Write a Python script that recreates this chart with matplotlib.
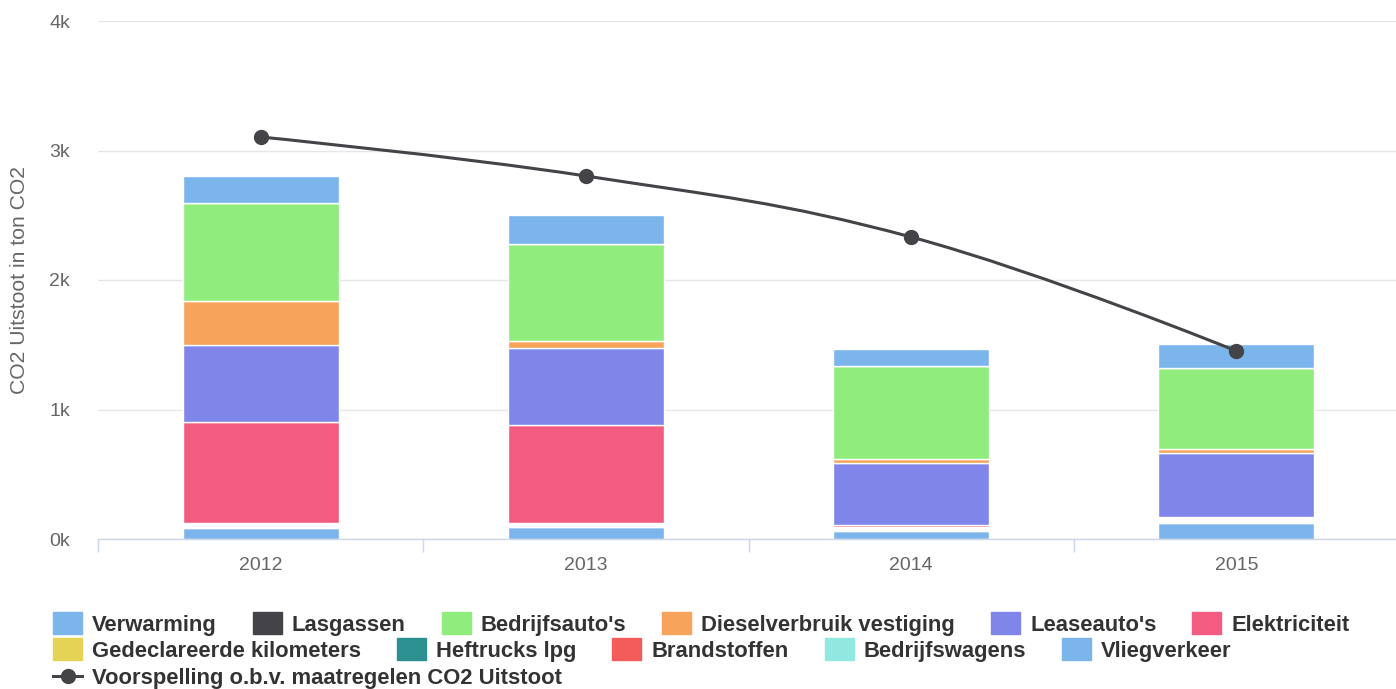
import numpy as np
import matplotlib
matplotlib.use("Agg")
import matplotlib.pyplot as plt
from matplotlib.path import Path
from matplotlib.patches import PathPatch, Rectangle
from matplotlib.lines import Line2D

plt.rcParams["font.family"] = ["Liberation Sans", "DejaVu Sans"]

years = ["2012", "2013", "2014", "2015"]

# series in legend order (Highcharts stacks the first one on top)
series_names = [
    "Verwarming", "Lasgassen", "Bedrijfsauto's", "Dieselverbruik vestiging",
    "Leaseauto's", "Elektriciteit", "Gedeclareerde kilometers", "Heftrucks lpg",
    "Brandstoffen", "Bedrijfswagens", "Vliegverkeer",
]
series_colors = [
    "#7cb5ec", "#434348", "#90ed7d", "#f7a35c", "#8085e9", "#f15c80",
    "#e4d354", "#2b908f", "#f45b5b", "#91e8e1", "#7cb5ec",
]

verwarming = [208, 224, 131, 183]
lasgassen = [0, 0, 0, 0]
bedrijfsautos = [757, 746, 721, 628]
diesel = [340, 55, 30, 29]
leaseautos = [595, 597, 477, 496]
elektriciteit = [779, 754, 15, 0]
gedeclareerd = [0, 0, 0, 0]
heftrucks = [0, 0, 0, 0]
brandstoffen = [0, 0, 0, 0]
bedrijfswagens = [39, 31, 31, 49]
vliegverkeer = [85, 95, 62, 121]

voorspelling = [3104, 2803, 2332, 1452]
line_name = "Voorspelling o.b.v. maatregelen CO2 Uitstoot"

series_values = [
    verwarming, lasgassen, bedrijfsautos, diesel, leaseautos, elektriciteit,
    gedeclareerd, heftrucks, brandstoffen, bedrijfswagens, vliegverkeer,
]

W, H = 1396, 689
fig = plt.figure(figsize=(W / 100, H / 100), dpi=100)
ax = fig.add_axes([98 / W, 150 / H, 1301 / W, 518 / H])

x = np.arange(len(years))
bottom = np.zeros(len(years))
for name, vals, col in reversed(list(zip(series_names, series_values, series_colors))):
    vals = np.array(vals, dtype=float)
    # the Bedrijfswagens slice shows up as an empty white gap in the original
    face = "white" if name == "Bedrijfswagens" else col
    ax.bar(x, vals, width=0.48, bottom=bottom, color=face, edgecolor="white",
           linewidth=1, zorder=2)
    bottom += vals


def spline_path(xs, ys, smoothing=1.5):
    # Highcharts-like spline through the points
    denom = smoothing + 1
    n = len(xs)
    left = [None] * n
    right = [None] * n
    for i in range(1, n - 1):
        px, py = xs[i], ys[i]
        lx, ly = xs[i - 1], ys[i - 1]
        nx, ny = xs[i + 1], ys[i + 1]
        lcx = (smoothing * px + lx) / denom
        lcy = (smoothing * py + ly) / denom
        rcx = (smoothing * px + nx) / denom
        rcy = (smoothing * py + ny) / denom
        corr = (rcy - lcy) * (rcx - px) / (rcx - lcx) + py - rcy
        lcy += corr
        rcy += corr
        if lcy > ly and lcy > py:
            lcy = max(ly, py)
            rcy = 2 * py - lcy
        elif lcy < ly and lcy < py:
            lcy = min(ly, py)
            rcy = 2 * py - lcy
        if rcy > ny and rcy > py:
            rcy = max(ny, py)
            lcy = 2 * py - rcy
        elif rcy < ny and rcy < py:
            rcy = min(ny, py)
            lcy = 2 * py - rcy
        left[i] = (lcx, lcy)
        right[i] = (rcx, rcy)
    verts = [(xs[0], ys[0])]
    codes = [Path.MOVETO]
    for i in range(1, n):
        c1 = right[i - 1] if right[i - 1] else (xs[i - 1], ys[i - 1])
        c2 = left[i] if left[i] else (xs[i], ys[i])
        verts += [c1, c2, (xs[i], ys[i])]
        codes += [Path.CURVE4] * 3
    return Path(verts, codes)


line_color = "#434348"
ax.add_patch(PathPatch(spline_path(list(x.astype(float)), voorspelling), fill=False,
                       edgecolor=line_color, linewidth=2.2, zorder=4))
ax.plot(x, voorspelling, "o", color=line_color, markersize=10, zorder=5)

ax.set_xlim(-0.5, 3.5)
ax.set_ylim(0, 4000)
ax.set_yticks([0, 1000, 2000, 3000, 4000])
ax.set_yticklabels(["0k", "1k", "2k", "3k", "4k"])
ax.set_xticks(x)
ax.set_xticklabels(years)
ax.set_xticks([-0.5, 0.5, 1.5, 2.5, 3.5], minor=True)
ax.tick_params(axis="y", length=0, pad=20, labelsize=14, labelcolor="#666666")
ax.tick_params(axis="x", which="major", length=0, pad=13, labelsize=14,
               labelcolor="#666666")
ax.tick_params(axis="x", which="minor", length=9.5, width=1, color="#ccd6eb")
ax.yaxis.grid(True, color="#e6e6e6", linewidth=1)
ax.set_axisbelow(True)
for s in ["top", "right", "left"]:
    ax.spines[s].set_visible(False)
ax.spines["bottom"].set_color("#ccd6eb")
ax.spines["bottom"].set_linewidth(1)
ax.spines["bottom"].set_zorder(3)

fig.text(20 / W, 1 - 280 / H, "CO2 Uitstoot in ton CO2", rotation=90,
         ha="center", va="center", fontsize=15.2, color="#666666")

# legend, drawn in pixel coordinates
lax = fig.add_axes([0, 0, 1, 1])
lax.set_xlim(0, W)
lax.set_ylim(H, 0)
lax.axis("off")
renderer = fig.canvas.get_renderer()

rows = [[0, 1, 2, 3, 4, 5], [6, 7, 8, 9, 10], ["line"]]
row_y = [623, 649, 676]
for items, cy in zip(rows, row_y):
    xpos = 53
    for it in items:
        if it == "line":
            lax.add_line(Line2D([xpos, xpos + 29], [cy, cy], color=line_color,
                                linewidth=2.2))
            lax.plot([xpos + 14.5], [cy], "o", color=line_color, markersize=10)
            label = line_name
        else:
            lax.add_patch(Rectangle((xpos, cy - 11), 29, 22,
                                    color=series_colors[it]))
            label = series_names[it]
        t = lax.text(xpos + 39, cy, label, ha="left", va="center_baseline",
                     fontsize=15.8, fontweight="bold", color="#333333")
        bb = t.get_window_extent(renderer)
        xpos = bb.x1 + 36

fig.savefig("out.png", dpi=100)
